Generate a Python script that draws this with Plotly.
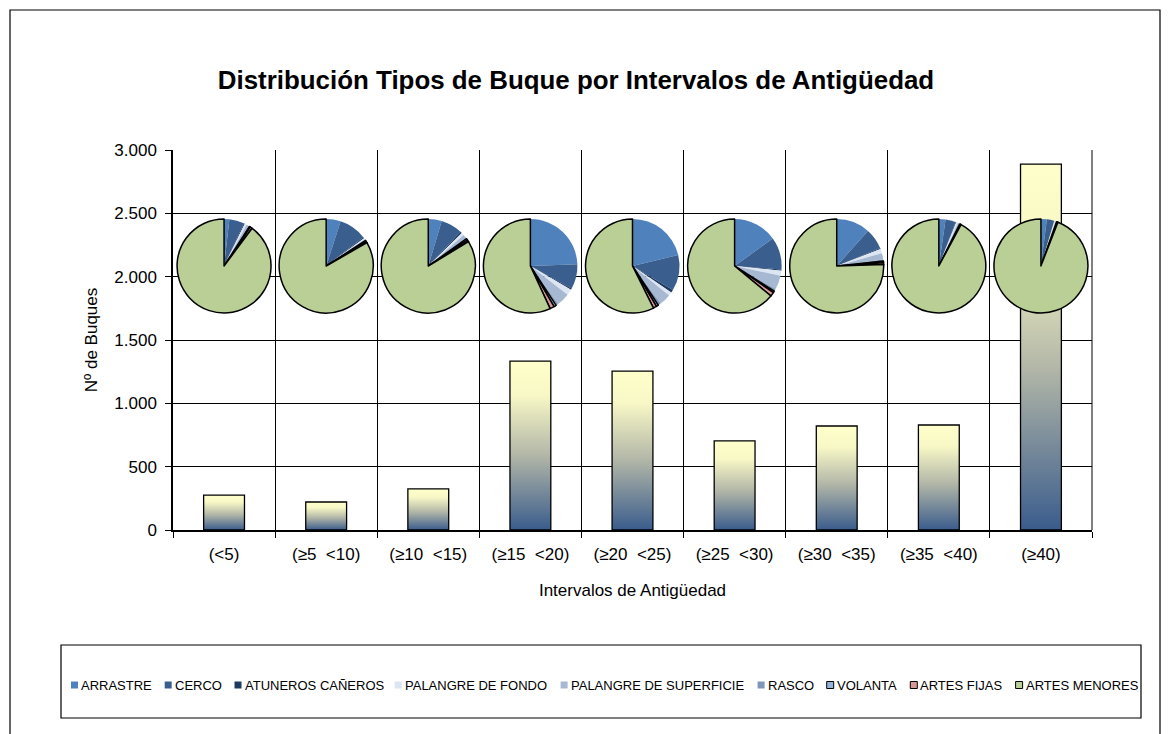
import plotly.graph_objects as go

# ---------------- data ----------------
intervals = ["(<5)", "(≥5\u00a0 <10)", "(≥10\u00a0 <15)", "(≥15\u00a0 <20)", "(≥20\u00a0 <25)",
             "(≥25\u00a0 <30)", "(≥30\u00a0 <35)", "(≥35\u00a0 <40)", "(≥40)"]
types = ["ARRASTRE", "CERCO", "ATUNEROS CAÑEROS", "PALANGRE DE FONDO", "PALANGRE DE SUPERFICIE",
         "RASCO", "VOLANTA", "ARTES FIJAS", "ARTES MENORES"]

arrastre       = [5, 11, 15, 326, 267, 106, 95, 19, 58]
cerco          = [14, 21, 24, 113, 154, 78, 59, 29, 72]
atuneros       = [1, 1, 2, 7, 13, 3, 3, 2, 3]
palangre_fondo = [2, 1, 3, 27, 15, 12, 12, 5, 12]
palangre_sup   = [2, 1, 4, 60, 50, 34, 18, 5, 8]
rasco          = [1, 0, 1, 11, 12, 6, 4, 1, 3]
volanta        = [1, 1, 2, 11, 10, 4, 5, 2, 6]
artes_fijas    = [2, 1, 2, 20, 14, 10, 5, 2, 8]
artes_menores  = [247, 184, 271, 759, 720, 450, 620, 764, 2719]

series = [arrastre, cerco, atuneros, palangre_fondo, palangre_sup, rasco, volanta, artes_fijas, artes_menores]
totals = [sum(s[i] for s in series) for i in range(len(intervals))]

y_ticks = [0, 500, 1000, 1500, 2000, 2500, 3000]

# ---------------- styles ----------------
slice_colors = ["#4F81BD", "#3A5F8F", "#1F3A60", "#DCE6F2", "#A6B8D2",
                "#8096B8", "#95B3D7", "#D99795", "#B9CF96"]
slice_line_w = [0, 0, 0, 0, 0, 0, 1.5, 1.5, 1.5]
bar_scale = [[0, "#3A5C8C"], [0.45, "#B4B8A8"], [0.8, "#F8F8C6"], [1, "#FFFFCC"]]

OFF = 8  # page body margin
W, H = 1169 - OFF, 734 - OFF
L, R, T, B = 173 - OFF, W - (1092 - OFF), 150 - OFF, H - (530 - OFF)
pw, ph = W - L - R, H - T - B
n = len(intervals)


def px_x(sx):
    return (sx - OFF - L) / pw


def px_y(sy):
    return ((H - B) - (sy - OFF)) / ph


fig = go.Figure()

# bars (gradient filled)
half = 0.2
for i, tot in enumerate(totals):
    fig.add_trace(go.Scatter(
        x=[i - half, i - half, i + half, i + half, i - half],
        y=[0, tot, tot, 0, 0],
        mode="lines", fill="toself",
        fillgradient=dict(type="vertical", colorscale=bar_scale),
        line=dict(color="black", width=1.3),
        showlegend=False, hoverinfo="skip"))

# pies
r_px = 47
cy = px_y(266)
for i in range(n):
    cx = (i + 0.5) / n
    rx = r_px / pw
    ry = r_px / ph
    fig.add_trace(go.Pie(
        labels=types, values=[s[i] for s in series], sort=False,
        direction="clockwise", rotation=0,
        textinfo="none", hoverinfo="label+value+percent",
        marker=dict(colors=slice_colors, line=dict(color="black", width=slice_line_w)),
        domain=dict(x=[cx - rx, cx + rx], y=[cy - ry, cy + ry]),
        showlegend=False))

font = "Liberation Sans, Arial, sans-serif"

# manual legend (single row, like the original)
leg_x = [71, 164.7, 234.5, 394.7, 560.6, 757.6, 826.7, 910.3, 1015.6]
leg_y = 685
sq = 7
shapes = [
    dict(type="rect", xref="paper", yref="paper",
         x0=px_x(10), x1=px_x(1160), y0=px_y(745), y1=px_y(10),
         line=dict(color="black", width=1.2), fillcolor="rgba(0,0,0,0)", layer="below"),
    dict(type="rect", xref="paper", yref="paper",
         x0=px_x(61), x1=px_x(1141), y0=px_y(718), y1=px_y(645),
         line=dict(color="black", width=1.2), fillcolor="rgba(0,0,0,0)"),
    dict(type="line", xref="paper", yref="paper", x0=1, x1=1, y0=0, y1=1,
         line=dict(color="black", width=1)),
]
annotations = []
for k, name in enumerate(types):
    x0 = leg_x[k]
    shapes.append(dict(type="rect", xref="paper", yref="paper",
                       x0=px_x(x0), x1=px_x(x0 + sq),
                       y0=px_y(leg_y + sq / 2), y1=px_y(leg_y - sq / 2),
                       fillcolor=slice_colors[k],
                       line=dict(color="black" if slice_line_w[k] else slice_colors[k],
                                 width=1 if slice_line_w[k] else 0)))
    annotations.append(dict(text=name, xref="paper", yref="paper",
                            x=px_x(x0 + sq + 1), y=px_y(leg_y), xanchor="left", yanchor="middle",
                            showarrow=False, font=dict(size=13, family=font, color="black")))

fig.update_layout(
    width=W, height=H,
    margin=dict(l=L, r=R, t=T, b=B, autoexpand=False),
    paper_bgcolor="white", plot_bgcolor="white",
    separators=",.",
    showlegend=False,
    font=dict(family=font, size=17, color="black"),
    title=dict(text="<b>Distribución Tipos de Buque por Intervalos de Antigüedad</b>",
               x=(576 - OFF) / W, xanchor="center", y=1 - (80 - OFF) / H, yanchor="middle",
               font=dict(size=25.9, family=font, color="black")),
    xaxis=dict(range=[-0.5, n - 0.5], tickvals=list(range(n)), ticktext=intervals,
               showgrid=False, zeroline=False, ticks="outside", ticklen=8,
               tickcolor="rgba(0,0,0,0)", showline=True, linecolor="black", linewidth=1.5,
               minor=dict(tickvals=[k - 0.5 for k in range(n + 1)], showgrid=True,
                          gridcolor="black", gridwidth=1, ticks="outside", ticklen=6,
                          tickcolor="black"),
               title=dict(text="Intervalos de Antigüedad", standoff=21,
                          font=dict(size=17)),
               tickfont=dict(size=17)),
    yaxis=dict(range=[0, 3000], tickvals=y_ticks, tickformat=",d",
               showgrid=True, gridcolor="black", gridwidth=1, zeroline=False,
               ticks="outside", ticklen=6, tickcolor="black",
               showline=True, linecolor="black", linewidth=1.5,
               ticklabelstandoff=5,
               title=dict(text="Nº de Buques", standoff=12, font=dict(size=17)),
               tickfont=dict(size=17)),
    shapes=shapes,
    annotations=annotations,
)

fig.write_html("out.html")
